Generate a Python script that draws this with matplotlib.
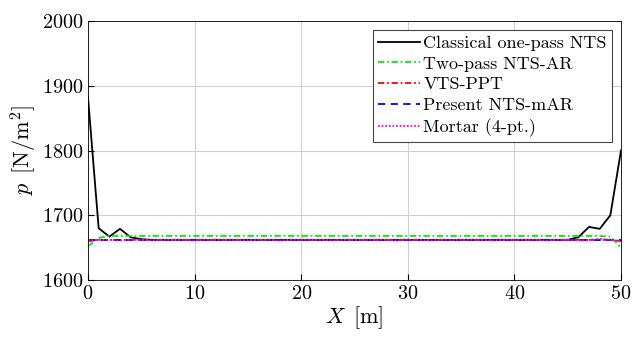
import numpy as np
import matplotlib
matplotlib.use("Agg")
import matplotlib.pyplot as plt

plt.rcParams['font.family'] = 'serif'
plt.rcParams['font.serif'] = ['cmr10']
plt.rcParams['mathtext.fontset'] = 'cm'
plt.rcParams['axes.formatter.use_mathtext'] = True

# positions along the channel [m]
x = np.arange(0, 51)

# pressure values
classical = [1882, 1680, 1667, 1679, 1666, 1663] + [1662] * 40 + [1666, 1682, 1679, 1700, 1800]
two_pass = [1652, 1665] + [1668] * 47 + [1667, 1650]
vts_ppt = [1660] + [1662] * 49 + [1660]
present = [1662] * 51
mortar = ([1661, 1662, 1662, 1661, 1662, 1662, 1661, 1662, 1662, 1662,
           1661, 1662, 1662, 1662, 1662, 1661, 1662, 1662, 1661, 1662,
           1662, 1662, 1662, 1661, 1662, 1662, 1662, 1662, 1662, 1661,
           1662, 1662, 1661, 1662, 1662, 1662, 1662, 1662, 1661, 1662,
           1662, 1662, 1662, 1661, 1662, 1662, 1661, 1661, 1664, 1662, 1660])

labels = ["Classical one-pass NTS", "Two-pass NTS-AR", "VTS-PPT",
          "Present NTS-mAR", "Mortar (4-pt.)"]

fig = plt.figure(figsize=(6.33, 3.39), dpi=100)
ax = fig.add_axes([88 / 633, 1 - 280 / 339, (621 - 88) / 633, (280 - 21) / 339])

ax.plot(x, classical, color='black', lw=1.3, ls='-', label=labels[0])
ax.plot(x, two_pass, color='#00ee00', lw=1.3, dashes=(3.5, 1.5, 1, 1.5), label=labels[1])
ax.plot(x, vts_ppt, color='red', lw=1.3, dashes=(3.5, 1.5, 1, 1.5), label=labels[2])
ax.plot(x, present, color='blue', lw=1.3, dashes=(4, 3), label=labels[3])
ax.plot(x, mortar, color='magenta', lw=1.3, dashes=(1, 1), label=labels[4])

ax.set_xlim(0, 50)
ax.set_ylim(1600, 2000)
ax.set_xticks([0, 10, 20, 30, 40, 50])
ax.set_yticks([1600, 1700, 1800, 1900, 2000])
ax.tick_params(direction='in', labelsize=14.5, length=4)
ax.grid(True, color='#d0d0d0', lw=0.8)
ax.set_axisbelow(True)
for s in ax.spines.values():
    s.set_linewidth(0.6)

ax.set_xlabel(r'$X\ \,[\mathrm{m}]$', fontsize=16, labelpad=1)
ax.set_ylabel(r'$p\ \,[\mathrm{N/m^2}]$', fontsize=16, labelpad=2)

leg = ax.legend(loc='upper right', fontsize=13, fancybox=False, framealpha=1,
                edgecolor='#444444', handlelength=2.3, handletextpad=0.2,
                borderpad=0.3, labelspacing=0.28, borderaxespad=0.5)
leg.get_frame().set_linewidth(0.8)

fig.savefig('out.png', dpi=100)
